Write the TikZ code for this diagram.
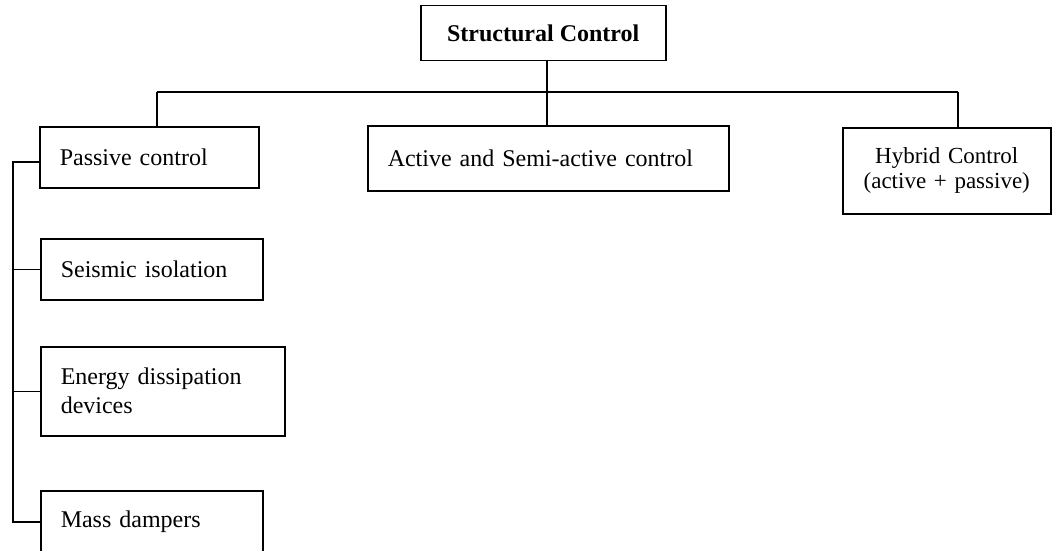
\documentclass[tikz,border=0pt]{standalone}
\usepackage{fontspec}
\setmainfont{Liberation Serif}
\begin{document}
\begin{tikzpicture}[x=1pt,y=-1pt,
  box/.style={draw,line width=1.5pt,rectangle,inner xsep=20pt,inner ysep=0pt,anchor=north west,
    font=\fontsize{24}{29}\selectfont},
  conn/.style={line width=1.5pt}]
\useasboundingbox (0,0) rectangle (1052,551);
\clip (0,0) rectangle (1052,551);
\node[box,minimum width=245pt,minimum height=55pt,font=\fontsize{24}{29}\selectfont\bfseries] (sc) at (420,5) {Structural Control};
\node[box,minimum width=219pt,minimum height=61pt,text width=179pt,align=left] (passive) at (39,126) {Passive control};
\node[box,minimum width=361pt,minimum height=65pt,text width=321pt,align=left] (active) at (367,125) {Active and Semi-active control};
\node[box,minimum width=208pt,minimum height=86pt,text width=168pt,align=center,font=\fontsize{23}{25}\selectfont] (hybrid) at (842,127) {Hybrid Control\\(active + passive)};
\node[box,minimum width=222pt,minimum height=61pt,text width=182pt,align=left] (seismic) at (40,238) {Seismic isolation};
\node[box,minimum width=244pt,minimum height=89pt,text width=204pt,align=left] (energy) at (40,346) {Energy dissipation\\devices};
\node[box,minimum width=222pt,minimum height=62pt,text width=182pt,align=left] (mass) at (40,490) {Mass dampers};
\coordinate (hl) at (157,92);
\coordinate (hr) at (958,92);
\coordinate (tc) at (547,92);
\coordinate (tx) at (13,162);
\draw[conn] (hl) -- (hr);
\draw[conn] (sc.south -| tc) -- (active.north -| tc);
\draw[conn] (hl) -- (passive.north -| hl);
\draw[conn] (hr) -- (hybrid.north -| hr);
\draw[conn] (passive.west |- tx) -- (tx) -- (mass.west -| tx) -- (mass.west);
\draw[conn] (seismic.west) -- (seismic.west -| tx);
\draw[conn] (energy.west) -- (energy.west -| tx);
\end{tikzpicture}
\end{document}
